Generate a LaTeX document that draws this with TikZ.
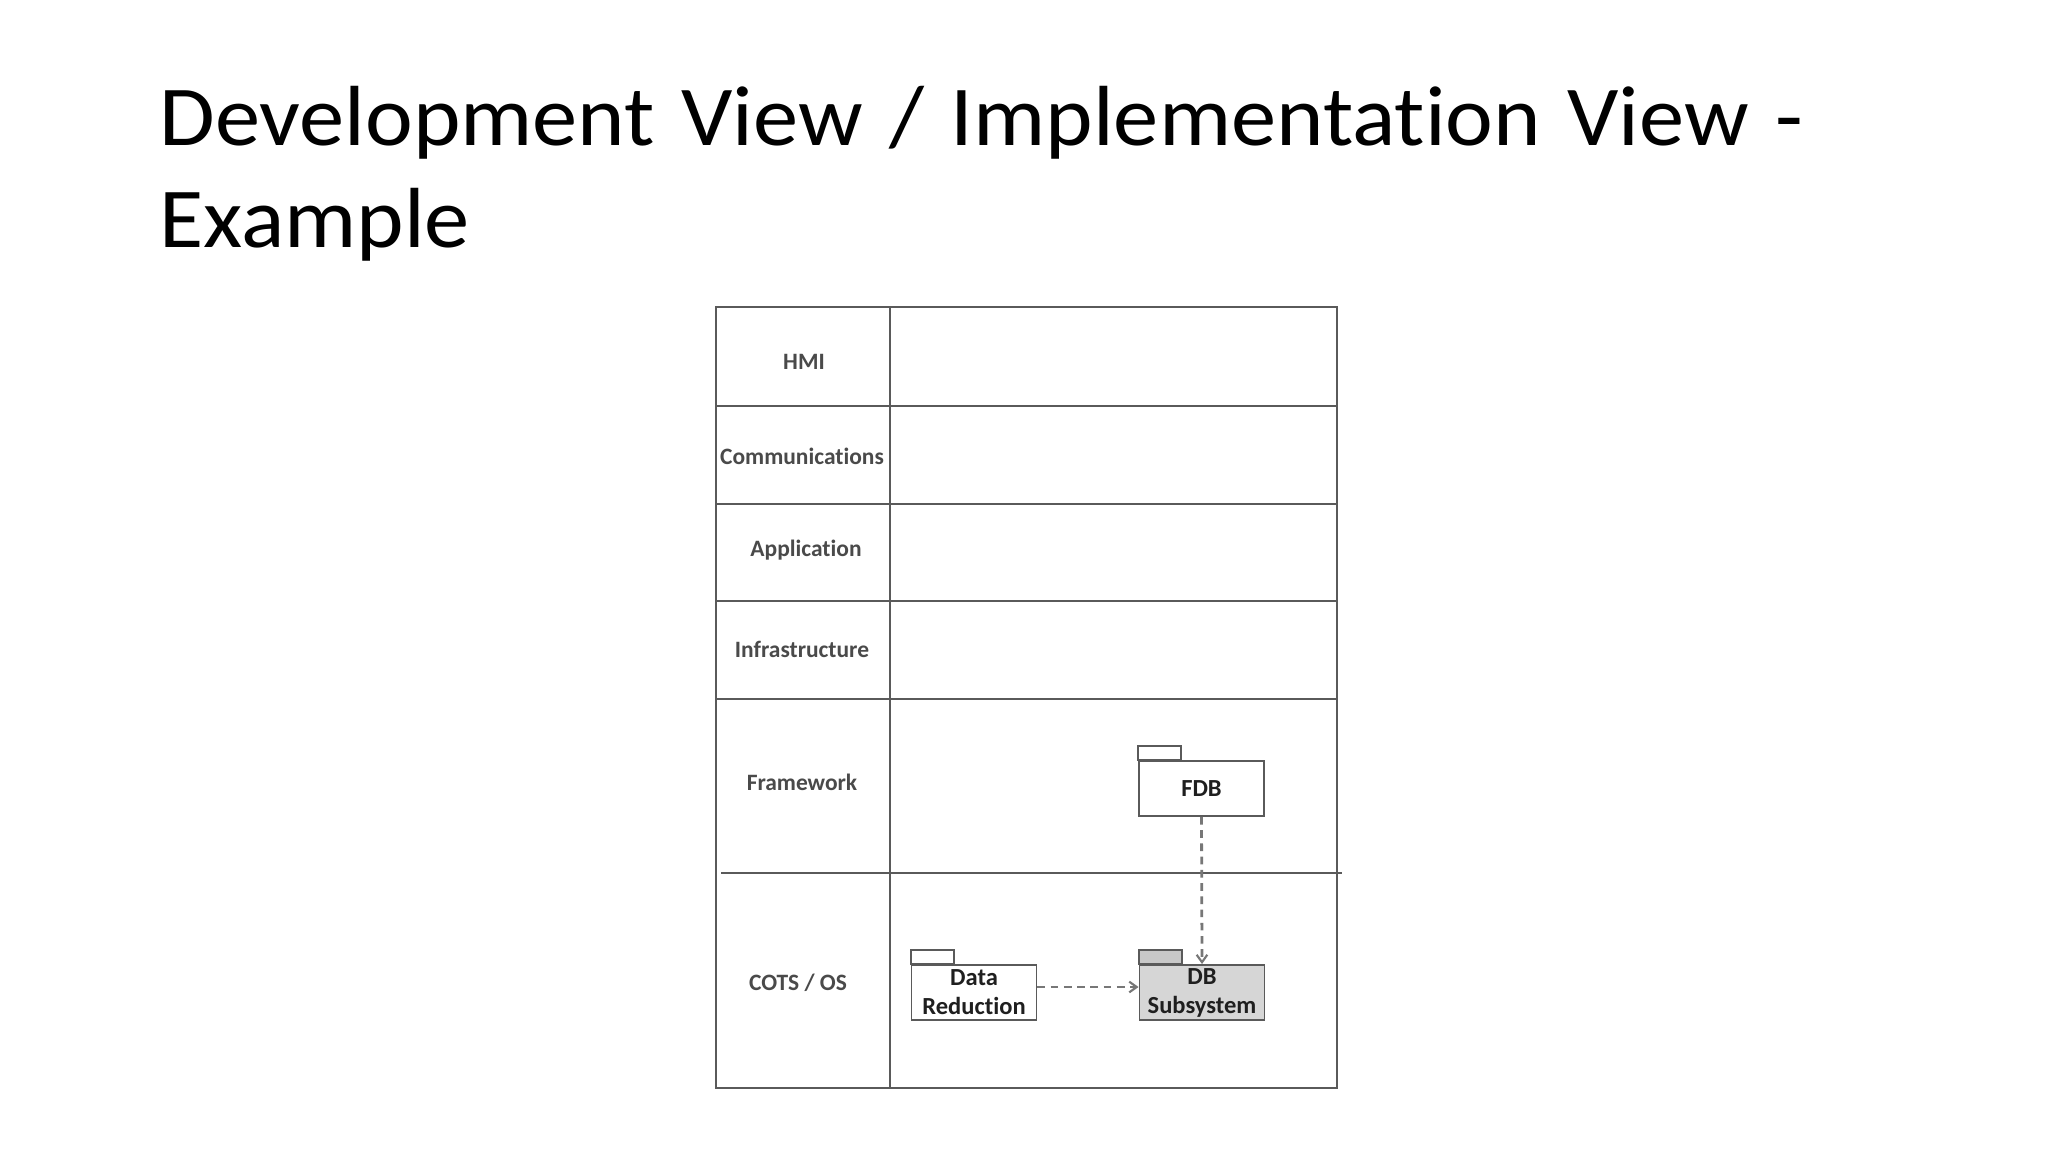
\documentclass[tikz,border=0pt]{standalone}
\usepackage{fontspec}
\setmainfont{Carlito}[Ligatures={NoCommon}]
\newfontfamily\titlefont{Carlito}[FakeStretch=1.06, WordSpace=1.3, Ligatures={NoCommon}]
\usetikzlibrary{arrows.meta}
\definecolor{gridline}{HTML}{5A5A5A}
\definecolor{labelgray}{HTML}{4A4A4A}
\definecolor{pkgfill}{HTML}{D6D6D6}
\definecolor{tabfill}{HTML}{C8C8C8}
\definecolor{dashgray}{HTML}{777777}
\tikzset{
  gridln/.style={draw=gridline, line width=1.1pt},
  rowlabel/.style={font=\fontsize{11}{13}\selectfont\bfseries, text=labelgray, inner sep=0pt},
  pkg/.style={draw=gridline, line width=0.9pt, fill=white, font=\fontsize{11.5}{13.6}\selectfont\bfseries,
     text=black!88, align=center, inner sep=0pt, minimum width={125*0.46875pt}, minimum height={55*0.46875pt}},
  dep/.style={draw=dashgray, line width=1.3pt, dash pattern=on 3.6pt off 2.6pt,
     -{Straight Barb[length=3.5pt,width=5pt,line width=1pt]}},
  titletext/.style={font=\titlefont\fontsize{40}{48}\selectfont, anchor=base west, inner sep=0pt, text=black}
}
\newcommand{\pkgtab}[2]{%
  \draw[draw=gridline, line width=0.9pt, fill=#2] (#1.north west) rectangle ([xshift={43*0.46875pt}, yshift={14*0.46875pt}]#1.north west);}
\begin{document}
\begin{tikzpicture}[x=0.46875pt, y=-0.46875pt]
\path[fill=white, use as bounding box] (0,0) rectangle (2048,1152);

% title
\node[titletext] (title1) at (159,146) {Development View / Implementation View -};
\node[titletext] (title2) at (159,248) {Example};

% table
\draw[gridln] (716,307) rectangle (1337,1088);
\draw[gridln] (890,307) -- (890,1088);
\draw[gridln] (716,406) -- (1337,406);
\draw[gridln] (716,504) -- (1337,504);
\draw[gridln] (716,601) -- (1337,601);
\draw[gridln] (716,699) -- (1337,699);
\draw[gridln] (721,873) -- (1342,873);

% row labels
\node[rowlabel] (hmi) at (804,362) {HMI};
\node[rowlabel] (comm) at (802,456) {Communications};
\node[rowlabel] (app) at (806,550) {Application};
\node[rowlabel] (infra) at (802,649) {Infrastructure};
\node[rowlabel] (frame) at (802,782) {Framework};
\node[rowlabel] (cots) at (798,983) {COTS / OS};

% packages
\node[pkg] (fdb) at (1201.5,788.5) {FDB};
\pkgtab{fdb}{white}
\node[pkg] (datared) at (974,992.5) {Data\\Reduction};
\pkgtab{datared}{white}
\node[pkg, fill=pkgfill] (dbsub) at (1202,992.5) {DB\\Subsystem};
\pkgtab{dbsub}{tabfill}

% dependencies
\draw[dep] (fdb.south) -- (dbsub.north);
\draw[dep] (datared.east |- 0,987) -- (dbsub.west |- 0,987);
\end{tikzpicture}
\end{document}
